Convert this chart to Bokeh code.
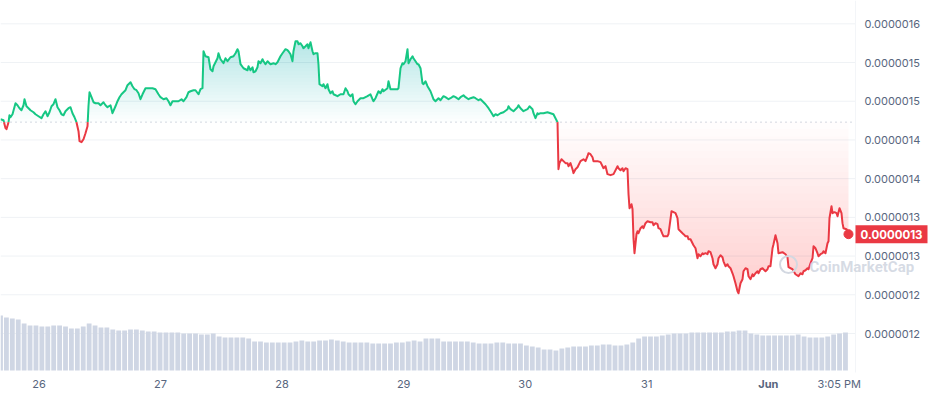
import numpy as np
from bokeh.plotting import figure
from bokeh.models import Range1d, ColumnDataSource
from bokeh.core.properties import value
from bokeh.embed import file_html
from bokeh.resources import INLINE

# ---------------- data ----------------
# hours since 26 May 00:00
hours = [
    -7.60, -7.01, -6.61, -6.42, -6.02, -5.83, -5.63, -5.23, -4.64, -4.25,
    -3.85, -3.46, -3.06, -2.86, -2.47, -2.07, -1.68, -1.09, -0.69, -0.10,
    0.49, 0.89, 1.28, 1.68, 2.07, 2.47, 2.86, 3.26, 3.65, 4.05,
    4.44, 4.84, 5.23, 5.82, 6.22, 6.61, 7.01, 7.40, 7.80, 8.00,
    8.39, 8.79, 9.18, 9.58, 9.77, 9.97, 10.37, 10.76, 11.16, 11.75,
    12.14, 12.73, 13.13, 13.52, 14.12, 14.51, 15.10, 15.50, 15.89, 16.29,
    16.68, 17.08, 17.47, 18.07, 18.46, 18.86, 19.25, 19.65, 20.04, 20.44,
    21.03, 21.62, 22.02, 22.41, 23.00, 23.59, 23.99, 24.58, 25.17, 25.57,
    25.96, 26.36, 26.95, 27.54, 28.14, 28.53, 29.12, 29.52, 29.91, 30.51,
    30.90, 31.49, 31.89, 32.28, 32.48, 32.87, 33.47, 33.86, 34.26, 34.46,
    35.24, 35.44, 35.84, 36.43, 36.82, 37.22, 37.81, 38.40, 38.80, 39.19,
    39.39, 39.79, 40.38, 41.17, 41.37, 41.76, 42.16, 42.35, 42.75, 43.14,
    43.34, 43.73, 44.13, 44.33, 44.72, 45.12, 45.71, 46.30, 46.70, 47.09,
    47.68, 48.08, 48.67, 49.07, 49.26, 49.66, 50.05, 50.25, 50.65, 51.04,
    51.24, 51.63, 52.03, 52.22, 52.62, 53.01, 53.21, 53.61, 54.00, 54.20,
    54.59, 54.99, 55.18, 55.38, 55.97, 56.17, 56.57, 56.96, 57.16, 57.55,
    57.95, 58.15, 58.94, 59.53, 60.12, 60.52, 60.91, 61.11, 61.50, 61.90,
    62.10, 62.49, 62.89, 63.48, 64.07, 64.86, 65.45, 65.85, 66.05, 66.44,
    67.03, 67.43, 67.82, 68.02, 68.81, 69.01, 69.40, 69.99, 70.78, 70.98,
    71.38, 71.77, 71.97, 72.37, 72.76, 72.96, 73.35, 73.75, 73.94, 74.34,
    74.73, 74.93, 75.33, 75.72, 75.92, 76.31, 76.71, 77.30, 77.89, 78.29,
    78.88, 79.28, 79.87, 80.26, 80.86, 81.25, 81.84, 82.24, 82.83, 83.23,
    83.82, 84.21, 84.81, 85.20, 85.79, 86.19, 86.78, 87.18, 87.77, 88.16,
    88.76, 89.15, 89.75, 90.14, 90.53, 91.12, 91.72, 92.51, 92.70, 93.10,
    93.69, 94.48, 94.68, 95.07, 95.66, 96.45, 96.85, 97.44, 97.64, 98.03,
    98.43, 98.63, 99.02, 99.61, 100.40, 100.99, 101.58, 101.98, 102.38, 102.57,
    102.77, 103.17, 103.56, 103.96, 104.35, 104.55, 104.94, 105.34, 105.54, 105.93,
    106.33, 106.92, 107.51, 107.91, 108.30, 108.50, 108.89, 109.29, 109.49, 110.28,
    110.87, 111.46, 111.86, 112.25, 112.85, 113.44, 114.23, 114.42, 114.82, 115.21,
    115.41, 115.81, 116.20, 116.40, 116.60, 116.99, 117.19, 117.38, 117.58, 117.98,
    118.17, 118.37, 118.77, 119.16, 119.36, 119.75, 120.15, 120.74, 121.13, 121.33,
    121.73, 122.12, 122.32, 122.71, 123.11, 123.31, 123.70, 124.10, 124.29, 124.69,
    124.89, 125.28, 125.68, 126.07, 126.27, 126.66, 127.06, 127.26, 127.65, 128.05,
    128.24, 128.64, 129.03, 129.23, 129.63, 130.02, 130.22, 130.61, 131.01, 131.20,
    131.60, 131.99, 132.19, 132.59, 132.98, 133.18, 133.57, 133.97, 134.17, 134.56,
    134.96, 135.15, 135.55, 135.94, 136.14, 136.54, 136.93, 137.13, 137.52, 137.92,
    138.12, 138.31, 138.51, 138.91, 139.10, 139.50, 139.89, 140.09, 140.49, 140.88,
    141.08, 141.47, 141.87, 142.06, 142.46, 142.86, 143.05, 143.45, 143.84, 144.04,
    144.43, 144.83, 145.03, 145.42, 145.82, 146.01, 146.80, 147.40, 147.79, 147.99,
    148.78, 149.37, 149.96, 150.36, 150.75, 150.95, 151.35, 151.74, 151.94, 152.33,
    152.73, 152.93, 153.32, 153.71, 153.91, 154.31, 154.70, 154.90, 155.29, 155.69,
    155.89, 156.08, 156.48, 156.68, 157.07, 157.47, 157.67, 158.06, 158.45, 158.65,
    158.85, 159.44, 159.83,
]

# price in units of 0.000001
price = [
    1.4768, 1.4755, 1.4652, 1.4639, 1.4729, 1.4819, 1.4793, 1.4832, 1.4974, 1.4948,
    1.4910, 1.4884, 1.4948, 1.5026, 1.4935, 1.4910, 1.4884, 1.4858, 1.4832, 1.4806,
    1.4781, 1.4832, 1.4871, 1.4806, 1.4858, 1.4935, 1.4961, 1.5026, 1.4923, 1.4884,
    1.4832, 1.4819, 1.4871, 1.4910, 1.4923, 1.4845, 1.4793, 1.4729, 1.4613, 1.4484,
    1.4471, 1.4509, 1.4587, 1.4677, 1.4935, 1.5116, 1.5052, 1.4987, 1.4974, 1.4974,
    1.4948, 1.4987, 1.4948, 1.4923, 1.4948, 1.4845, 1.4935, 1.5000, 1.5052, 1.5090,
    1.5116, 1.5142, 1.5207, 1.5245, 1.5194, 1.5155, 1.5142, 1.5103, 1.5026, 1.5090,
    1.5168, 1.5168, 1.5168, 1.5168, 1.5155, 1.5090, 1.5052, 1.5026, 1.5039, 1.5000,
    1.4948, 1.5000, 1.5000, 1.5000, 1.5026, 1.5000, 1.5052, 1.5116, 1.5129, 1.5142,
    1.5142, 1.5090, 1.5155, 1.5168, 1.5646, 1.5581, 1.5568, 1.5413, 1.5387, 1.5452,
    1.5555, 1.5620, 1.5542, 1.5491, 1.5555, 1.5517, 1.5568, 1.5581, 1.5620, 1.5672,
    1.5646, 1.5478, 1.5426, 1.5400, 1.5452, 1.5400, 1.5439, 1.5374, 1.5387, 1.5439,
    1.5517, 1.5491, 1.5542, 1.5517, 1.5478, 1.5517, 1.5478, 1.5491, 1.5478, 1.5504,
    1.5581, 1.5620, 1.5672, 1.5659, 1.5646, 1.5607, 1.5517, 1.5646, 1.5775, 1.5775,
    1.5736, 1.5749, 1.5710, 1.5685, 1.5710, 1.5736, 1.5685, 1.5762, 1.5646, 1.5607,
    1.5620, 1.5620, 1.5478, 1.5220, 1.5194, 1.5220, 1.5168, 1.5220, 1.5155, 1.5103,
    1.5129, 1.5090, 1.5065, 1.5090, 1.5090, 1.5168, 1.5129, 1.5090, 1.5065, 1.5090,
    1.5000, 1.4961, 1.5000, 1.5039, 1.5039, 1.5065, 1.5090, 1.5026, 1.5000, 1.5039,
    1.5129, 1.5103, 1.5155, 1.5129, 1.5168, 1.5258, 1.5155, 1.5155, 1.5155, 1.5168,
    1.5426, 1.5491, 1.5478, 1.5517, 1.5672, 1.5491, 1.5542, 1.5581, 1.5555, 1.5517,
    1.5478, 1.5478, 1.5426, 1.5232, 1.5220, 1.5258, 1.5194, 1.5129, 1.5026, 1.5000,
    1.5039, 1.5013, 1.5065, 1.5052, 1.5026, 1.5039, 1.5065, 1.5052, 1.5026, 1.5052,
    1.5077, 1.5052, 1.5026, 1.5039, 1.5052, 1.5039, 1.5013, 1.5026, 1.4987, 1.4961,
    1.4910, 1.4871, 1.4806, 1.4832, 1.4819, 1.4845, 1.4858, 1.4897, 1.4935, 1.4897,
    1.4871, 1.4923, 1.4948, 1.4910, 1.4871, 1.4897, 1.4935, 1.4897, 1.4845, 1.4781,
    1.4845, 1.4832, 1.4845, 1.4845, 1.4858, 1.4845, 1.4832, 1.4781, 1.4729, 1.4122,
    1.4200, 1.4251, 1.4226, 1.4200, 1.4200, 1.4161, 1.4200, 1.4122, 1.4071, 1.4122,
    1.4148, 1.4226, 1.4251, 1.4226, 1.4290, 1.4329, 1.4316, 1.4277, 1.4226, 1.4226,
    1.4213, 1.4135, 1.4161, 1.4058, 1.4045, 1.4058, 1.4161, 1.4135, 1.4109, 1.4135,
    1.4096, 1.4135, 1.4122, 1.3799, 1.3618, 1.3670, 1.3605, 1.3231, 1.3037, 1.3283,
    1.3321, 1.3295, 1.3360, 1.3386, 1.3360, 1.3425, 1.3450, 1.3437, 1.3437, 1.3399,
    1.3425, 1.3412, 1.3360, 1.3347, 1.3283, 1.3257, 1.3257, 1.3257, 1.3283, 1.3476,
    1.3580, 1.3567, 1.3554, 1.3489, 1.3347, 1.3321, 1.3295, 1.3283, 1.3257, 1.3257,
    1.3218, 1.3218, 1.3166, 1.3140, 1.3101, 1.2972, 1.3024, 1.2998, 1.3037, 1.3024,
    1.3037, 1.3024, 1.3063, 1.3050, 1.2972, 1.2894, 1.2843, 1.2894, 1.2972, 1.3011,
    1.2985, 1.2933, 1.2869, 1.2894, 1.2869, 1.2843, 1.2778, 1.2740, 1.2649, 1.2546,
    1.2520, 1.2585, 1.2649, 1.2701, 1.2804, 1.2843, 1.2830, 1.2740, 1.2701, 1.2765,
    1.2740, 1.2778, 1.2804, 1.2778, 1.2830, 1.2843, 1.2830, 1.2804, 1.2830, 1.2869,
    1.2869, 1.3101, 1.3153, 1.3270, 1.3166, 1.3037, 1.3050, 1.3024, 1.2985, 1.2856,
    1.2830, 1.2765, 1.2740, 1.2778, 1.2765, 1.2804, 1.2817, 1.2843, 1.2830, 1.2907,
    1.2972, 1.3127, 1.3101, 1.3037, 1.2998, 1.3024, 1.3037, 1.3063, 1.3037, 1.3166,
    1.3192, 1.3489, 1.3644, 1.3554, 1.3567, 1.3554, 1.3515, 1.3618, 1.3554, 1.3425,
    1.3360, 1.3347, 1.3283,
]

open_price = 1.473  # 7-day opening price (dotted reference line)

# volume bars, one every 70 minutes (relative units)
vol_start_hour = -7.6
vol_step_hours = 7 / 6
volume = [
    55, 53, 52, 51, 47, 45, 45, 44, 44, 45, 45, 44, 42, 42, 44, 47, 45, 43, 43, 41,
    40, 40, 41, 41, 40, 39, 39, 38, 38, 38, 38, 37, 37, 37, 36, 36, 37, 34, 33, 33,
    33, 33, 32, 29, 29, 28, 28, 28, 28, 28, 29, 30, 29, 29, 30, 30, 31, 30, 29, 28,
    28, 28, 28, 27, 27, 27, 27, 28, 28, 29, 30, 29, 32, 32, 32, 29, 29, 29, 29, 29,
    28, 27, 27, 27, 28, 28, 27, 27, 27, 25, 24, 23, 21, 21, 20, 22, 23, 24, 24, 24,
    25, 25, 26, 26, 25, 25, 26, 28, 32, 34, 34, 34, 35, 36, 37, 37, 37, 38, 38, 38,
    38, 38, 38, 39, 39, 40, 40, 37, 36, 35, 35, 35, 35, 35, 35, 36, 34, 33, 33, 33,
    34, 36, 37, 38,
]
vol_hours = [vol_start_hour + i * vol_step_hours for i in range(len(volume))]

y_ticks = [1.2, 1.25, 1.3, 1.35, 1.4, 1.45, 1.5, 1.55, 1.6]
y_labels = ["0.0000012", "0.0000012", "0.0000013", "0.0000013", "0.0000014",
            "0.0000014", "0.0000015", "0.0000015", "0.0000016"]
x_ticks = [0, 24, 48, 72, 96, 120, 144, 158.0]
x_labels = ["26", "27", "28", "29", "30", "31", "Jun", "3:05 PM"]
x_label_styles = ["normal"] * 6 + ["bold", "normal"]
last_label = "0.0000013"

# ---------------- layout (pixels -> data) ----------------
W, H = 929, 396
PX_PER_HOUR = 5.0646
X_DAY26 = 38.5
PX_PER_UNIT = 774.25
Y_AT_TOP_TICK = 23.3
PLOT_RIGHT = 855      # right edge of the price area
LABEL_LEFT = 864      # left edge of the price labels
VOL_BASE = 370        # bottom of the volume bars
XLABEL_Y = 383


def hx(px):
    return (px - X_DAY26) / PX_PER_HOUR


def vy(py):
    return 1.6 - (py - Y_AT_TOP_TICK) / PX_PER_UNIT


GREEN = "#16c784"
RED = "#ea3943"
GREY = "#58667e"
FONT = value("Inter")

p = figure(width=W, height=H, output_backend="svg", toolbar_location=None,
           x_range=Range1d(hx(0), hx(W)), y_range=Range1d(vy(H), vy(0)),
           x_axis_location=None, y_axis_location=None,
           min_border_left=0, min_border_top=0, min_border_bottom=0,
           min_border_right=0, outline_line_color=None,
           background_fill_color="white", border_fill_color="white")
p.grid.visible = False
p.extra_y_ranges = {"vol": Range1d(-(H - VOL_BASE), VOL_BASE)}

# horizontal grid at price ticks
n = len(y_ticks)
p.segment(x0=[hx(0)] * n, x1=[hx(PLOT_RIGHT)] * n, y0=y_ticks, y1=y_ticks,
          line_color="#eff2f5", line_width=1)
# faint right edge of plot area
p.segment(x0=[hx(PLOT_RIGHT)], x1=[hx(PLOT_RIGHT)], y0=[vy(0)], y1=[vy(VOL_BASE + 2)],
          line_color="#f3f5f8", line_width=1)

# volume
p.vbar(x=vol_hours, width=0.95, bottom=0, top=volume, y_range_name="vol",
       fill_color="#cfd6e4", line_color=None)

# split line at the opening price
t = np.array(hours, dtype=float)
y = np.array(price, dtype=float)
tt, yy = [t[0]], [y[0]]
for i in range(1, len(t)):
    a, b = y[i - 1] - open_price, y[i] - open_price
    if a * b < 0:
        f = a / (a - b)
        tt.append(t[i - 1] + f * (t[i] - t[i - 1]))
        yy.append(open_price)
    tt.append(t[i])
    yy.append(y[i])
tt = np.array(tt)
yy = np.array(yy)

# gradient fills (stacked translucent layers)
N = 24
top = yy.max()
bot = yy.min()
c = 1 - (1 - 0.22) ** (1 / N)
for k in range(N):
    a = open_price + (top - open_price) * k / N
    p.varea(x=tt, y1=np.full_like(yy, a), y2=np.maximum(yy, a),
            fill_color=GREEN, fill_alpha=c)
    b = open_price - (open_price - bot) * k / N
    p.varea(x=tt, y1=np.minimum(yy, b), y2=np.full_like(yy, b),
            fill_color=RED, fill_alpha=c)

# dotted opening-price line
p.segment(x0=[hx(0)], x1=[hx(PLOT_RIGHT - 3)], y0=[open_price], y1=[open_price],
          line_color="#a6b0c3", line_dash="1 4", line_width=1)

up = np.where(yy >= open_price, yy, np.nan)
dn = np.where(yy <= open_price, yy, np.nan)
p.line(tt, up, line_color=GREEN, line_width=2, line_join="round")
p.line(tt, dn, line_color=RED, line_width=2, line_join="round")

p.scatter([hours[-1]], [price[-1]], size=9, color=RED)

# price labels (right)
p.text(x=[hx(LABEL_LEFT)] * n, y=y_ticks, text=y_labels, text_align="left",
       text_baseline="middle", text_font=FONT, text_font_size="11px",
       text_color=GREY)

# time labels (bottom)
src = ColumnDataSource(dict(x=x_ticks, y=[vy(XLABEL_Y)] * len(x_ticks),
                            text=x_labels, style=x_label_styles))
p.text(x="x", y="y", text="text", source=src, text_align="center",
       text_baseline="middle", text_font=FONT, text_font_size="11px",
       text_color=GREY, text_font_style="style")

# current price badge
badge_x = hx((PLOT_RIGHT + 927) / 2)
p.rect(x=[badge_x], y=[price[-1]], width=72, height=18, width_units="screen",
       height_units="screen", fill_color=RED, line_color=None)
p.text(x=[badge_x], y=[price[-1]], text=[last_label], text_align="center",
       text_baseline="middle", text_font=FONT, text_font_size="11.5px",
       text_font_style="bold", text_color="white")

# watermark
p.scatter(x=[hx(788)], y=[vy(264)], size=17, marker="circle", fill_color=None,
          line_color="#d3d8e1", line_width=2)
p.text(x=[hx(809)], y=[vy(266)], text=["CoinMarketCap"], text_align="left",
       text_baseline="middle", text_font=value("Roboto"), text_font_size="15px",
       text_font_style="bold", text_color="#cfd5df", text_alpha=0.85)

open("out.html", "w").write(file_html(p, INLINE))
